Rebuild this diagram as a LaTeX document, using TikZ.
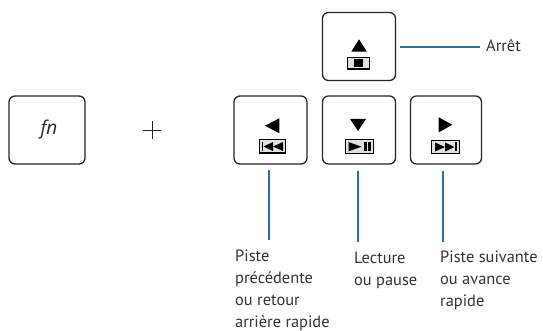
\documentclass[tikz,border=0pt]{standalone}
\usepackage{fontspec}
\setmainfont{PT Sans}
\newfontfamily\keyfont{Open Sans}
\usepackage{tikz}
\usetikzlibrary{positioning}
\definecolor{linkblue}{HTML}{2A6EB2}
\definecolor{labelgrey}{HTML}{333333}
\tikzset{
  keybox/.style={draw=black!85,line width=1.3pt,rounded corners=6pt,inner sep=0pt},
  link/.style={draw=linkblue,line width=1.5pt},
  caption/.style={inner sep=0pt,anchor=base west,align=left,text=labelgrey,font=\fontsize{16.4}{21.8}\selectfont},
  iconframe/.style={draw=black,line width=1.2pt,fill=black!12},
}
\begin{document}
\begin{tikzpicture}[x=1pt,y=-1pt]
\useasboundingbox (0,0) rectangle (543,331);
% keys
\node [keybox,minimum width=76pt,minimum height=68pt] (fnkey) at (47,130) {};
\node [keybox,minimum width=73pt,minimum height=68pt] (stopkey) at (359,46.5) {};
\node [keybox,minimum width=73pt,minimum height=68pt] (prevkey) at (270.5,130) {};
\node [keybox,minimum width=73pt,minimum height=68pt] (playkey) at (359,130) {};
\node [keybox,minimum width=71pt,minimum height=68pt] (nextkey) at (446,130) {};
\node [inner sep=0pt,font=\keyfont\fontsize{19}{19}\selectfont\itshape,text=black!85] (fnlabel) at (49,130) {fn};
\node [inner sep=0pt] (plussign) at (152,130) {};
\draw [black!85,line width=0.9pt] (plussign.center) +(-9,0) -- +(9,0) +(0,-9) -- +(0,9);
% stop icon
\fill [black] (359,39.3) -- (367,51.7) -- (351.3,51.7) -- cycle;
\draw [iconframe] (347.8,57.8) rectangle (369.8,69);
\fill [black] (354.3,59.5) rectangle (362.7,67.5);
% previous icon
\fill [black] (265,125.7) -- (279.3,118.3) -- (279.3,133.3) -- cycle;
\draw [iconframe] (259.8,139.8) rectangle (285.8,153);
\fill [black] (261.8,142) rectangle (263.3,151);
\fill [black] (263.5,146.5) -- (273,142) -- (273,151) -- cycle;
\fill [black] (273,146.5) -- (283,142) -- (283,151) -- cycle;
% play icon
\fill [black] (358,131) -- (350,119) -- (366,119) -- cycle;
\draw [iconframe] (345.2,139.8) rectangle (373.8,153.6);
\fill [black] (348.5,142) -- (361.5,146.7) -- (348.5,151.4) -- cycle;
\fill [black] (364,142) rectangle (366.7,151.4);
\fill [black] (368.3,142) rectangle (370.8,151.4);
% next icon
\fill [black] (452.3,124.8) -- (438.7,117.3) -- (438.7,132.3) -- cycle;
\draw [iconframe] (431.5,140.5) rectangle (459.8,153.6);
\fill [black] (435,142.5) -- (445,147) -- (435,151.5) -- cycle;
\fill [black] (445,142.5) -- (454.5,147) -- (445,151.5) -- cycle;
\fill [black] (454.5,142.5) rectangle (456.5,151.5);
% captions
\node [caption] (stoplabel) at (486,51.7) {Arrêt};
\node [caption] (prevlabel) at (235,327) {Piste\\précédente\\ou retour\\arrière rapide};
\node [caption] (playlabel) at (354,285) {Lecture\\ou pause};
\node [caption] (nextlabel) at (440,306) {Piste suivante\\ou avance\\rapide};
% connectors
\coordinate (stopend) at (480,47);
\coordinate (prevend) at (269,240);
\coordinate (playend) at (358,242);
\coordinate (nextend) at (443,242);
\draw [link,shorten <=3.5pt] (stopkey.east |- stopend) -- (stopend);
\draw [link,shorten <=5pt] (prevkey.south -| prevend) -- (prevend);
\draw [link,shorten <=6pt] (playkey.south -| playend) -- (playend);
\draw [link,shorten <=6pt] (nextkey.south -| nextend) -- (nextend);
\end{tikzpicture}
\end{document}
